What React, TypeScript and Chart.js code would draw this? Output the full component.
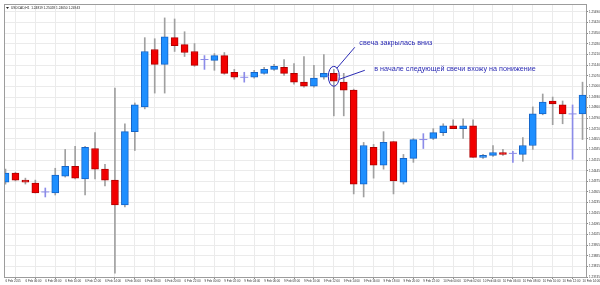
import React, { useEffect, useRef } from 'react';
import { Chart, registerables } from 'chart.js';

Chart.register(...registerables);

const symbolTitle = 'USDCAD,H1';

const xTickIndex = [0, 2, 4, 6, 8, 10, 12, 14, 16, 18, 20, 22, 24, 26, 28, 30, 32, 34, 36, 38, 40, 42, 44, 46, 48, 50, 52, 54, 56, 58];
const xTickLabels = [
  '6 Feb 2015', '6 Feb 06:00', '6 Feb 08:00', '6 Feb 10:00', '6 Feb 12:00', '6 Feb 14:00',
  '6 Feb 16:00', '6 Feb 18:00', '6 Feb 20:00', '6 Feb 22:00', '9 Feb 00:00', '9 Feb 02:00',
  '9 Feb 04:00', '9 Feb 06:00', '9 Feb 08:00', '9 Feb 10:00', '9 Feb 12:00', '9 Feb 14:00',
  '9 Feb 16:00', '9 Feb 18:00', '9 Feb 20:00', '9 Feb 22:00', '10 Feb 00:00', '10 Feb 02:00',
  '10 Feb 04:00', '10 Feb 06:00', '10 Feb 08:00', '10 Feb 10:00', '10 Feb 12:00', '10 Feb 14:00',
];

const yTickLabels = [
  '1.25490', '1.25420', '1.25350', '1.25280', '1.25210', '1.25140', '1.25070', '1.25000', '1.24930',
  '1.24860', '1.24790', '1.24720', '1.24655', '1.24585', '1.24515', '1.24445', '1.24375', '1.24305',
  '1.24235', '1.24165', '1.24095', '1.24025', '1.23955', '1.23885', '1.23815', '1.23745',
];

const opens = [
  1.24370, 1.24429, 1.24383, 1.24364, 1.24305, 1.24298, 1.24409, 1.24474, 1.24390, 1.24591,
  1.24455, 1.24383, 1.24220, 1.24702, 1.24865, 1.25243, 1.25145, 1.25321, 1.25275, 1.25230,
  1.25177, 1.25171, 1.25203, 1.25093, 1.25060, 1.25060, 1.25086, 1.25112, 1.25125, 1.25086,
  1.25028, 1.25002, 1.25060, 1.25086, 1.25028, 1.24976, 1.24357, 1.24598, 1.24481, 1.24637,
  1.24370, 1.24526, 1.24650, 1.24657, 1.24696, 1.24741, 1.24722, 1.24741, 1.24533, 1.24546,
  1.24565, 1.24559, 1.24552, 1.24611, 1.24819, 1.24904, 1.24878, 1.24819, 1.24819,
];
const highs = [
  1.24455, 1.24435, 1.24396, 1.24383, 1.24331, 1.24461, 1.24585, 1.24605, 1.24605, 1.24696,
  1.24487, 1.24989, 1.24754, 1.24891, 1.25321, 1.25314, 1.25451, 1.25444, 1.25360, 1.25282,
  1.25203, 1.25216, 1.25223, 1.25112, 1.25093, 1.25106, 1.25125, 1.25145, 1.25177, 1.25151,
  1.25197, 1.25138, 1.25210, 1.25112, 1.25086, 1.24982, 1.24631, 1.24618, 1.24702, 1.24637,
  1.24552, 1.24657, 1.24689, 1.24722, 1.24754, 1.24780, 1.24787, 1.24780, 1.24552, 1.24611,
  1.24585, 1.24572, 1.24663, 1.24865, 1.24950, 1.24930, 1.24904, 1.24878, 1.25028,
];
const lows = [
  1.24357, 1.24377, 1.24357, 1.24298, 1.24272, 1.24285, 1.24403, 1.24390, 1.24285, 1.24390,
  1.24344, 1.23771, 1.24207, 1.24578, 1.24852, 1.24956, 1.24956, 1.25230, 1.25197, 1.25132,
  1.25112, 1.25106, 1.25080, 1.25047, 1.25028, 1.25054, 1.25080, 1.25106, 1.25073, 1.25015,
  1.24995, 1.24995, 1.25047, 1.24806, 1.24806, 1.24292, 1.24272, 1.24396, 1.24455, 1.24292,
  1.24357, 1.24500, 1.24591, 1.24650, 1.24676, 1.24722, 1.24657, 1.24533, 1.24526, 1.24539,
  1.24546, 1.24500, 1.24507, 1.24585, 1.24813, 1.24748, 1.24754, 1.24520, 1.24650,
];
const closes = [
  1.24429, 1.24383, 1.24370, 1.24298, 1.24305, 1.24416, 1.24474, 1.24396, 1.24598, 1.24455,
  1.24383, 1.24220, 1.24702, 1.24878, 1.25230, 1.25145, 1.25327, 1.25269, 1.25223, 1.25138,
  1.25177, 1.25203, 1.25086, 1.25060, 1.25060, 1.25093, 1.25112, 1.25132, 1.25086, 1.25028,
  1.25002, 1.25054, 1.25086, 1.25034, 1.24976, 1.24357, 1.24611, 1.24481, 1.24631, 1.24377,
  1.24526, 1.24650, 1.24650, 1.24696, 1.24741, 1.24722, 1.24741, 1.24533, 1.24546, 1.24565,
  1.24552, 1.24559, 1.24611, 1.24819, 1.24897, 1.24884, 1.24819, 1.24819, 1.24943,
];

const noteCandle = 33;
const noteTexts = ['свеча закрылась вниз', 'в начале следующей свечи вхожу на понижение'];

const yMin = 1.23745;
const yMax = 1.25536;

const BULL = '#1e8fff';
const BULL_EDGE = '#1565c8';
const BEAR = '#f20000';
const BEAR_EDGE = '#b00000';
const WICK = '#a0a0a0';
const DOJI = '#8c8ce8';
const NOTE = '#2b2bb4';
const FONT = "'Liberation Sans', Arial, sans-serif";

export default function App() {
  const ref = useRef<HTMLCanvasElement | null>(null);

  useEffect(() => {
    document.body.style.margin = '0';
    const canvas = ref.current;
    if (!canvas) return;

    const idx = opens.map((_, i) => i);
    const isDoji = (i: number) => opens[i] === closes[i];

    const wickData = idx.map((i) => ({ x: i, y: [lows[i], highs[i]] }));
    const bodyIdx = idx.filter((i) => !isDoji(i));
    const bodyData = bodyIdx.map((i) => ({ x: i, y: [opens[i], closes[i]] }));
    const dojiIdx = idx.filter((i) => isDoji(i));
    const dojiData = dojiIdx.map((i) => ({ x: i, y: opens[i] }));

    const overlay = {
      id: 'overlay',
      beforeDatasetsDraw(chart: any) {
        const { ctx, chartArea } = chart;
        ctx.save();
        ctx.strokeStyle = '#9c9c9c';
        ctx.lineWidth = 1;
        ctx.strokeRect(chartArea.left - 0.5, chartArea.top - 0.5, chartArea.right - chartArea.left + 1, chartArea.bottom - chartArea.top + 1);
        ctx.restore();
      },
      afterDraw(chart: any) {
        const { ctx, chartArea } = chart;
        const xs = chart.scales.x;
        const ys = chart.scales.y;
        ctx.save();
        // header
        ctx.fillStyle = '#222';
        ctx.beginPath();
        ctx.moveTo(chartArea.left + 1, chartArea.top + 2);
        ctx.lineTo(chartArea.left + 4, chartArea.top + 2);
        ctx.lineTo(chartArea.left + 2.5, chartArea.top + 4);
        ctx.closePath();
        ctx.fill();
        ctx.font = `3.2px ${FONT}`;
        ctx.textBaseline = 'middle';
        ctx.textAlign = 'left';
        const last = opens.length - 1;
        const hdr = `${symbolTitle}  ${opens[last].toFixed(5)} ${highs[last].toFixed(5)} ${lows[last].toFixed(5)} ${closes[last].toFixed(5)}`;
        ctx.fillText(hdr, chartArea.left + 6, chartArea.top + 3);

        // annotation
        const cx = xs.getPixelForValue(noteCandle);
        const cy = ys.getPixelForValue((opens[noteCandle] + closes[noteCandle]) / 2);
        ctx.strokeStyle = NOTE;
        ctx.lineWidth = 1;
        ctx.beginPath();
        ctx.ellipse(cx, cy - 1, 5.5, 10, 0, 0, Math.PI * 2);
        ctx.stroke();
        ctx.beginPath();
        ctx.moveTo(cx + 3, cy - 9);
        ctx.lineTo(cx + 21, cy - 30);
        ctx.moveTo(cx + 5.5, cy + 2);
        ctx.lineTo(cx + 31, cy - 7);
        ctx.stroke();
        ctx.fillStyle = NOTE;
        ctx.font = `7.2px ${FONT}`;
        ctx.fillText(noteTexts[0], cx + 25.5, cy - 34);
        ctx.fillText(noteTexts[1], cx + 40.5, cy - 8);
        ctx.restore();
      },
    };

    const chart = new Chart(canvas, {
      type: 'bar',
      data: {
        datasets: [
          {
            type: 'bar',
            data: wickData as any,
            barThickness: 1,
            grouped: false,
            order: 3,
            backgroundColor: (c: any) => (isDoji(c.raw ? c.raw.x : 0) ? DOJI : WICK),
            borderWidth: 0,
          } as any,
          {
            type: 'bar',
            data: bodyData as any,
            barThickness: 7,
            grouped: false,
            order: 2,
            backgroundColor: (c: any) => {
              const i = c.raw ? c.raw.x : 0;
              return closes[i] > opens[i] ? BULL : BEAR;
            },
            borderColor: (c: any) => {
              const i = c.raw ? c.raw.x : 0;
              return closes[i] > opens[i] ? BULL_EDGE : BEAR_EDGE;
            },
            borderWidth: 1,
            borderSkipped: false,
          } as any,
          {
            type: 'line',
            data: dojiData as any,
            showLine: false,
            order: 1,
            pointStyle: 'line',
            pointRadius: 4,
            pointBorderWidth: 1,
            pointBorderColor: DOJI,
            pointBackgroundColor: DOJI,
          } as any,
        ],
      },
      options: {
        animation: false,
        responsive: false,
        devicePixelRatio: 1,
        layout: { padding: { left: 2, top: 2, right: 0, bottom: 0 } },
        plugins: { legend: { display: false }, tooltip: { enabled: false } },
        scales: {
          x: {
            type: 'linear',
            min: -0.05,
            max: 58.35,
            offset: false,
            border: { display: false },
            grid: { color: '#ebebeb', drawTicks: true, tickLength: 2, tickColor: '#8a8a8a' },
            ticks: {
              autoSkip: false,
              maxRotation: 0,
              align: 'start',
              padding: 0,
              color: '#333',
              font: { size: 3, family: FONT },
              callback: (v: any) => {
                const k = xTickIndex.indexOf(Number(v));
                return k >= 0 ? xTickLabels[k] : '';
              },
            },
            afterBuildTicks: (scale: any) => {
              scale.ticks = xTickIndex.map((v) => ({ value: v }));
            },
            afterFit: (scale: any) => {
              scale.height = 8;
              scale.paddingLeft = 0;
              scale.paddingRight = 0;
            },
          } as any,
          y: {
            type: 'linear',
            position: 'right',
            min: yMin,
            max: yMax,
            border: { display: false },
            grid: { color: '#ebebeb', drawTicks: true, tickLength: 2, tickColor: '#8a8a8a' },
            ticks: {
              autoSkip: false,
              padding: 1,
              color: '#333',
              font: { size: 3, family: FONT },
              callback: (v: any) => Number(v).toFixed(5),
            },
            afterBuildTicks: (scale: any) => {
              scale.ticks = yTickLabels.map((s) => ({ value: parseFloat(s) }));
            },
            afterFit: (scale: any) => {
              scale.width = 14;
              scale.paddingTop = 0;
              scale.paddingBottom = 0;
            },
          } as any,
        },
      },
      plugins: [overlay],
    });

    return () => chart.destroy();
  }, []);

  return (
    <div style={{ width: 600, height: 285, background: '#fff' }}>
      <canvas ref={ref} width={600} height={285} style={{ display: 'block', width: 600, height: 285 }} />
    </div>
  );
}
